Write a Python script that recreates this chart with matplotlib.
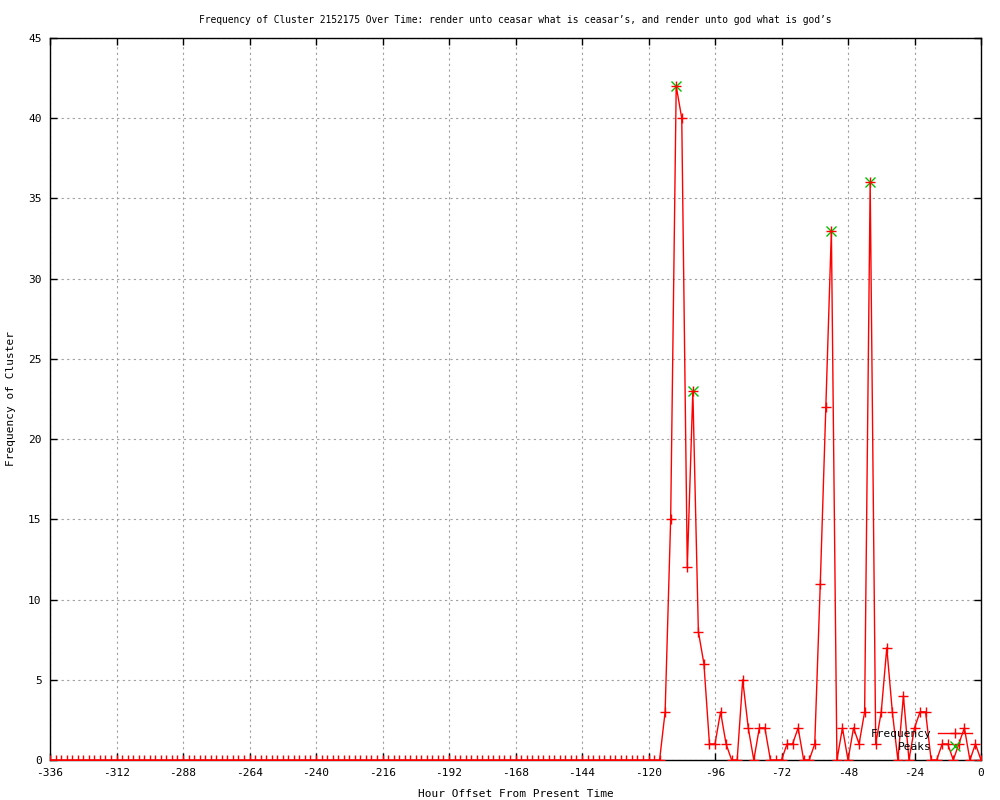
import numpy as np
import matplotlib
matplotlib.use("Agg")
import matplotlib.pyplot as plt

plt.rcParams['font.family'] = ['DejaVu Sans Mono']
plt.rcParams['axes.unicode_minus'] = False

# hours before now, one sample every 2 hours
hours = np.arange(-336, 1, 2)

# nothing happens before -116, then the cluster wakes up
quiet = [0] * 111
active = [3, 15, 42, 40, 12, 23, 8, 6, 1, 1,
          3, 1, 0, 0, 5, 2, 0, 2, 2, 0,
          0, 0, 1, 1, 2, 0, 0, 1, 11, 22,
          33, 0, 2, 0, 2, 1, 3, 36, 1, 3,
          7, 3, 0, 4, 0, 2, 3, 3, 0, 0,
          1, 1, 0, 1, 2, 0, 1, 0]
counts = np.array(quiet + active)

peak_hours = [-110, -104, -54, -40]
peak_counts = [42, 23, 33, 36]

title = "Frequency of Cluster 2152175 Over Time: render unto ceasar what is ceasar\u2019s, and render unto god what is god\u2019s"

fig = plt.figure(figsize=(10, 8), dpi=100)
ax = fig.add_axes([0.05, 0.05, 0.931, 0.9025])

pk, = ax.plot(peak_hours, peak_counts, linestyle='none', marker='x', color='#00c000',
              markersize=6.5, markeredgewidth=1.0, zorder=2)
fr, = ax.plot(hours, counts, color='red', linewidth=1.0, marker='+',
              markersize=7, markeredgewidth=1.0, zorder=3)

ax.set_xlim(-336, 0)
ax.set_ylim(0, 45)
ax.set_xticks(np.arange(-336, 1, 24))
ax.set_yticks(np.arange(0, 46, 5))
ax.tick_params(direction='in', length=5, width=1, top=True, right=True,
               labelsize=8, pad=6)
ax.grid(True, color='#a0a0a0', linestyle=(0, (2, 3)), linewidth=0.8)
for s in ax.spines.values():
    s.set_linewidth(1.0)

ax.set_title(title, fontsize=6.9, pad=11)
ax.set_xlabel("Hour Offset From Present Time", fontsize=8, labelpad=8)
ax.set_ylabel("Frequency of Cluster", fontsize=8, labelpad=9)

ax.legend([fr, pk], ["Frequency", "Peaks"], loc='lower right',
          bbox_to_anchor=(0.99, 0.011), frameon=False, markerfirst=False,
          fontsize=8, handlelength=3.0, handletextpad=0.6, labelspacing=0.3,
          borderpad=0, borderaxespad=0)

fig.savefig("out.png", dpi=100)
